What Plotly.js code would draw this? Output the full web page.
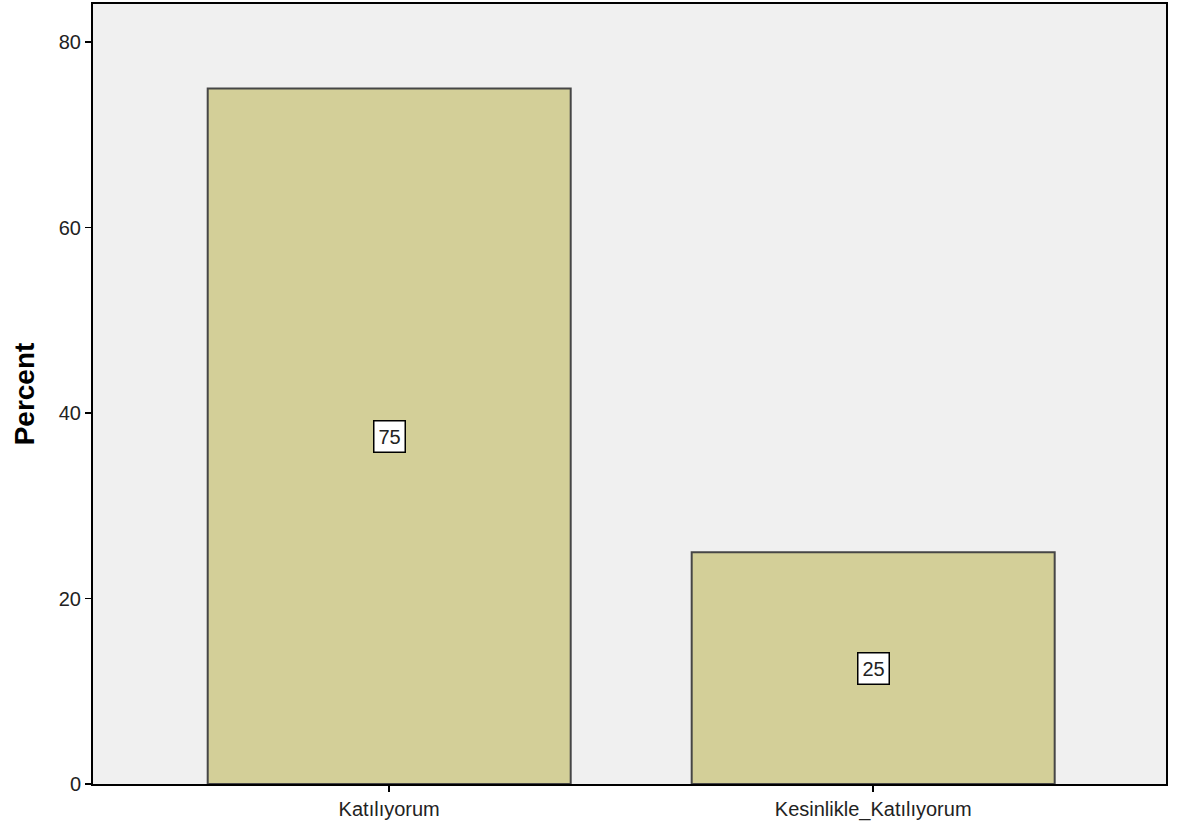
<!DOCTYPE html>
<html>
<head>
<meta charset="utf-8">
<script src="https://cdn.plot.ly/plotly-3.0.1.min.js"></script>
<style>html,body{margin:0;padding:0;background:#fff;}#chart{width:1179px;height:834px;}</style>
</head>
<body>
<div id="chart"></div>
<script>
const categories = ["Katılıyorum", "Kesinlikle_Katılıyorum"];
const percents = [75, 25];
const yTicks = [0, 20, 40, 60, 80];

const font = "Liberation Sans, Arial, sans-serif";
const xIdx = categories.map((c, i) => i);

const trace = {
  type: "bar",
  x: xIdx,
  y: percents,
  width: 0.75,
  marker: {color: "#d3cf98", line: {color: "#464646", width: 2}},
  hoverinfo: "skip"
};

const annotations = percents.map((v, i) => ({
  x: i, y: v / 2, xref: "x", yref: "y",
  text: String(v), showarrow: false,
  font: {family: font, size: 20, color: "#222"},
  bgcolor: "#ffffff", bordercolor: "#000000", borderwidth: 1.5, borderpad: 4
}));

const layout = {
  width: 1179, height: 834,
  margin: {l: 93, r: 13, t: 4, b: 50},
  paper_bgcolor: "#ffffff",
  plot_bgcolor: "#f0f0f0",
  showlegend: false,
  xaxis: {
    range: [-0.612, 1.605],
    tickmode: "array", tickvals: xIdx, ticktext: categories,
    ticks: "outside", ticklen: 6, tickcolor: "#000", tickwidth: 1.5,
    tickfont: {family: font, size: 20, color: "#222"},
    showgrid: false, zeroline: false,
    showline: true, linecolor: "#000", linewidth: 2, mirror: true
  },
  yaxis: {
    range: [0, 84.1],
    tickmode: "array", tickvals: yTicks, ticktext: yTicks.map(String),
    ticks: "outside", ticklen: 6, tickcolor: "#000", tickwidth: 1.5,
    tickfont: {family: font, size: 20, color: "#222"},
    showgrid: false, zeroline: false,
    showline: true, linecolor: "#000", linewidth: 2, mirror: true,
    title: {text: "Percent", font: {family: font, size: 28, color: "#000", weight: "bold"}, standoff: 16}
  },
  annotations: annotations
};

Plotly.newPlot("chart", [trace], layout, {displayModeBar: false, staticPlot: true});
</script>
</body>
</html>
